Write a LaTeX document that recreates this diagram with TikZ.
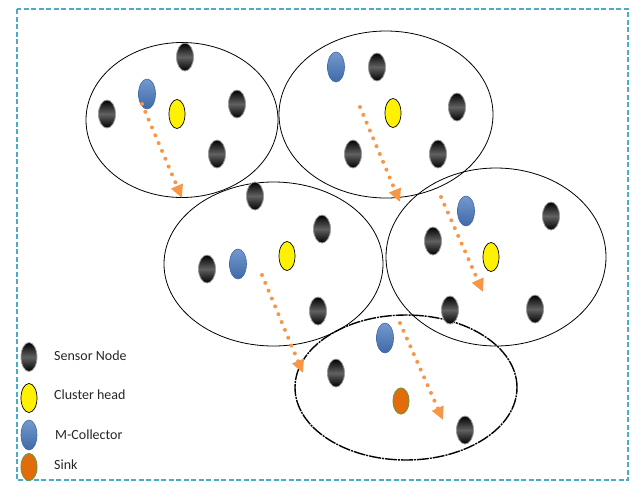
\documentclass[tikz,border=0pt]{standalone}
\usepackage{fontspec}
\setmainfont{Carlito}
\usetikzlibrary{shapes.geometric,arrows.meta}
\definecolor{bordercol}{HTML}{4BACC6}
\definecolor{arrcol}{HTML}{F79646}
\definecolor{bluenode}{HTML}{5B87C5}
\definecolor{bluedark}{HTML}{3F6AA8}
\definecolor{sinkcol}{HTML}{E36C0A}
\definecolor{sinkrim}{HTML}{77933C}
\tikzset{
  cluster/.style={ellipse, draw=black, line width=0.8pt, inner sep=0pt},
  snode/.style={ellipse, minimum width=17pt, minimum height=28pt, inner sep=0pt,
    top color=black, bottom color=black, middle color=black!62, draw=gray!75, line width=0.8pt},
  chead/.style={ellipse, minimum width=16pt, minimum height=29pt, inner sep=0pt,
    fill=yellow, draw=black, line width=0.7pt},
  mcol/.style={ellipse, minimum width=17pt, minimum height=30pt, inner sep=0pt,
    top color=bluenode!85!white, bottom color=bluedark, draw=bluedark, line width=0.6pt},
  sinknode/.style={ellipse, minimum width=16pt, minimum height=26pt, inner sep=0pt,
    fill=sinkcol, draw=sinkrim, line width=1pt},
  move/.style={draw=arrcol, line width=4pt, line cap=round, dash pattern=on 0pt off 8.5pt,
    -{Triangle[length=13pt,width=12pt]}},
  legtext/.style={anchor=west, inner sep=0pt, text=black!85, font=\fontsize{14}{16}\selectfont}
}
\begin{document}
\begin{tikzpicture}[x=1pt,y=-1pt]
\useasboundingbox (0,0) rectangle (634,482);
% border
\draw[bordercol, line width=1.5pt, dash pattern=on 5pt off 2.5pt] (17,9) rectangle (628,480);
% clusters
\node[cluster, minimum width=192pt, minimum height=155pt] (c1) at (182,120) {};
\node[cluster, minimum width=214pt, minimum height=167pt] (c2) at (386,114.5) {};
\node[cluster, minimum width=219pt, minimum height=164pt] (c3) at (273.5,264) {};
\node[cluster, minimum width=220pt, minimum height=178pt] (c4) at (496,257) {};
\node[cluster, minimum width=222pt, minimum height=145pt, line width=1.4pt,
  dash pattern=on 12pt off 1pt on 2pt off 1pt] (c5) at (406,387.5) {};
% cluster 1
\node[snode] (a1) at (185,57) {};
\node[mcol] (a2) at (147,94) {};
\node[chead] (a3) at (177,114) {};
\node[snode] (a4) at (107,114) {};
\node[snode] (a5) at (237,104) {};
\node[snode] (a6) at (217,154) {};
% cluster 2
\node[mcol] (b1) at (336,67) {};
\node[snode] (b2) at (377,67) {};
\node[chead] (b3) at (393,113) {};
\node[snode] (b4) at (457,107) {};
\node[snode] (b5) at (353,154) {};
\node[snode] (b6) at (438,154) {};
% cluster 3
\node[snode] (d1) at (255,196) {};
\node[snode] (d2) at (322,229) {};
\node[snode] (d3) at (207,269) {};
\node[mcol] (d4) at (238,264) {};
\node[chead] (d5) at (287,256) {};
\node[snode] (d6) at (318,311) {};
% cluster 4
\node[mcol] (e1) at (466,211) {};
\node[snode] (e2) at (551,216) {};
\node[snode] (e3) at (433,241) {};
\node[chead] (e4) at (491,257) {};
\node[snode] (e5) at (450,310) {};
\node[snode] (e6) at (535,309) {};
% cluster 5
\node[mcol] (f1) at (385,338) {};
\node[snode] (f2) at (336,373) {};
\node[sinknode] (f3) at (401,401) {};
\node[snode] (f4) at (465,430) {};
% movement arrows
\coordinate (m1s) at (142,104); \coordinate (m1e) at (182,198);
\coordinate (m2s) at (360,107); \coordinate (m2e) at (400,202);
\coordinate (m3s) at (262,275); \coordinate (m3e) at (303,373);
\coordinate (m4s) at (441,197); \coordinate (m4e) at (483,292);
\coordinate (m5s) at (400,323); \coordinate (m5e) at (443,420);
\draw[move] (m1s) -- (m1e);
\draw[move] (m2s) -- (m2e);
\draw[move] (m3s) -- (m3e);
\draw[move] (m4s) -- (m4e);
\draw[move] (m5s) -- (m5e);
% legend
\node[snode, minimum width=16pt, minimum height=29pt] (l1) at (29,357) {};
\node[chead, minimum width=16pt, minimum height=29pt] (l2) at (29,398) {};
\node[mcol, minimum width=16pt, minimum height=30pt] (l3) at (29,435) {};
\node[sinknode, minimum width=16pt, minimum height=27pt] (l4) at (29,467) {};
\node[legtext] (t1) at (54,356) {Sensor Node};
\node[legtext] (t2) at (54,395) {Cluster head};
\node[legtext] (t3) at (55,435) {M-Collector};
\node[legtext] (t4) at (54,465) {Sink};
\end{tikzpicture}
\end{document}
